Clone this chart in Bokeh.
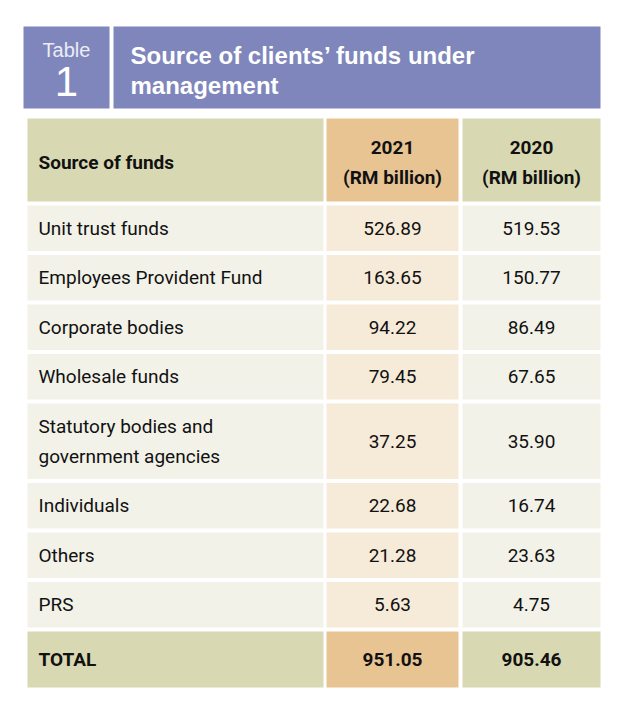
from bokeh.plotting import figure
from bokeh.models import Range1d
from bokeh.core.properties import value
from bokeh.embed import file_html
from bokeh.resources import INLINE

# ---- data ----
table_no = "1"
title_lines = ["Source of clients\u2019 funds under", "management"]
col_headers = ["Source of funds", "2021", "2020"]
unit_label = "(RM billion)"
sources = ["Unit trust funds", "Employees Provident Fund", "Corporate bodies",
           "Wholesale funds", "Statutory bodies and\ngovernment agencies",
           "Individuals", "Others", "PRS"]
v2021 = ["526.89", "163.65", "94.22", "79.45", "37.25", "22.68", "21.28", "5.63"]
v2020 = ["519.53", "150.77", "86.49", "67.65", "35.90", "16.74", "23.63", "4.75"]
total_label = "TOTAL"
total2021 = "951.05"
total2020 = "905.46"

# ---- style ----
PURPLE = "#7F86BB"
OLIVE = "#D8D8B2"
TAN = "#E8C493"
BODY = "#F3F2E9"
BODY2 = "#F6EAD8"
INK = "#111111"
NARROW = value("Roboto")
SANS = value("Liberation Sans")
FS = "19px"

p = figure(width=607, height=709, x_range=Range1d(0, 607), y_range=Range1d(709, 0),
           output_backend="svg", toolbar_location=None, min_border=0,
           x_axis_location=None, y_axis_location=None)
p.grid.visible = False
p.outline_line_color = None
p.background_fill_color = "white"
p.border_fill_color = "white"

# banner
p.quad(left=[23, 113], right=[109, 600], top=[26, 26], bottom=[108, 108],
       fill_color=PURPLE, line_color=None)
p.text(x=[66], y=[49], text=["Table"], text_font=SANS, text_font_size="20px",
       text_color="#ECECF5", text_align="center", text_baseline="middle")
p.text(x=[66], y=[81], text=[table_no], text_font=SANS, text_font_size="42px",
       text_color="white", text_align="center", text_baseline="middle")
p.text(x=[130, 130], y=[55, 85], text=title_lines, text_font=SANS, text_font_size="24px",
       text_font_style="bold", text_color="white", text_align="left", text_baseline="middle")

# columns
cl = [27, 326, 462]
cr = [323, 458, 600]
cx = [38, 392, 531]

# header row
ht, hb = 118, 201
p.quad(left=cl, right=cr, top=[ht] * 3, bottom=[hb] * 3,
       fill_color=[OLIVE, TAN, OLIVE], line_color=None)
p.text(x=[cx[0]], y=[162], text=[col_headers[0]], text_font=NARROW, text_font_size=FS,
       text_font_style="bold", text_color=INK, text_align="left", text_baseline="middle")
p.text(x=cx[1:], y=[147, 147], text=col_headers[1:], text_font=NARROW, text_font_size=FS,
       text_font_style="bold", text_color=INK, text_align="center", text_baseline="middle")
p.text(x=cx[1:], y=[177, 177], text=[unit_label] * 2, text_font=NARROW, text_font_size=FS,
       text_font_style="bold", text_color=INK, text_align="center", text_baseline="middle")

# body rows
gap = 4.0
single_h = 45.5
line_step = 30.0
y = hb + gap
for lab, a, b in zip(sources, v2021, v2020):
    lines = lab.split("\n")
    h = single_h + line_step * (len(lines) - 1)
    top, bot = y, y + h
    mid = (top + bot) / 2
    p.quad(left=cl, right=cr, top=[top] * 3, bottom=[bot] * 3,
           fill_color=[BODY, BODY2, BODY], line_color=None)
    ys = [mid + (i - (len(lines) - 1) / 2) * line_step for i in range(len(lines))]
    p.text(x=[cx[0]] * len(lines), y=ys, text=lines, text_font=NARROW, text_font_size=FS,
           text_color=INK, text_align="left", text_baseline="middle")
    p.text(x=cx[1:], y=[mid, mid], text=[a, b], text_font=NARROW, text_font_size=FS,
           text_color=INK, text_align="center", text_baseline="middle")
    y = bot + gap

# total row
top, bot = y, 687
mid = (top + bot) / 2
p.quad(left=cl, right=cr, top=[top] * 3, bottom=[bot] * 3,
       fill_color=[OLIVE, TAN, OLIVE], line_color=None)
p.text(x=[cx[0]], y=[mid], text=[total_label], text_font=NARROW, text_font_size=FS,
       text_font_style="bold", text_color=INK, text_align="left", text_baseline="middle")
p.text(x=cx[1:], y=[mid, mid], text=[total2021, total2020], text_font=NARROW, text_font_size=FS,
       text_font_style="bold", text_color=INK, text_align="center", text_baseline="middle")

open("out.html", "w").write(file_html(p, INLINE))
